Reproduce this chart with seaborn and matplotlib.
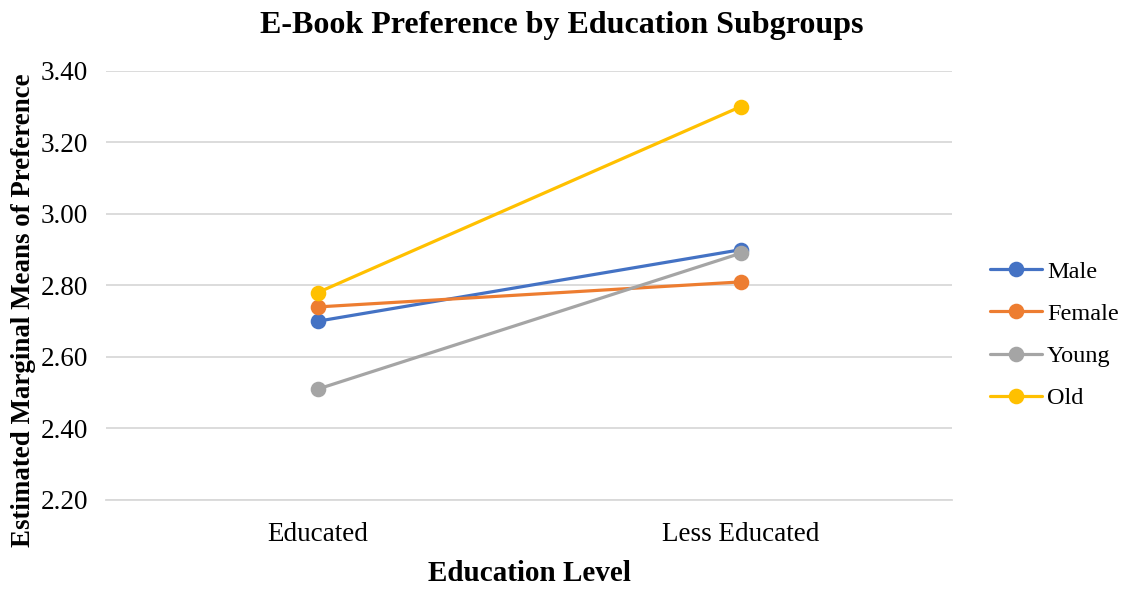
import matplotlib
matplotlib.use("Agg")
import matplotlib.pyplot as plt
import seaborn as sns
import pandas as pd

# Estimated marginal means of e-book preference
education_levels = ["Educated", "Less Educated"]
groups = ["Male", "Female", "Young", "Old"]
male = [2.70, 2.90]
female = [2.74, 2.81]
young = [2.51, 2.89]
old = [2.78, 3.30]
y_ticks = [2.20, 2.40, 2.60, 2.80, 3.00, 3.20, 3.40]

colors = ["#4472C4", "#ED7D31", "#A5A5A5", "#FFC000"]

rows = []
for name, vals in zip(groups, [male, female, young, old]):
    for lvl, v in zip(education_levels, vals):
        rows.append({"Education Level": lvl, "Mean": v, "Group": name})
df = pd.DataFrame(rows)

sns.set_theme(style="white")
plt.rcParams["font.family"] = ["Liberation Serif", "DejaVu Serif"]
plt.rcParams["text.color"] = "black"
plt.rcParams["axes.labelcolor"] = "black"

fig = plt.figure(figsize=(11.24, 5.89), dpi=100)
ax = fig.add_axes([106 / 1124, 1 - 500 / 589, (952 - 106) / 1124, (500 - 71) / 589])

sns.pointplot(
    data=df, x="Education Level", y="Mean", hue="Group",
    order=education_levels, hue_order=groups, palette=colors,
    markers="o", linestyles="-", errorbar=None, dodge=False,
    markersize=9.5, linewidth=2.3, ax=ax,
)

ax.set_xlim(-0.5, 1.5)
ax.set_ylim(2.2, 3.4)
ax.set_yticks(y_ticks)
ax.set_yticklabels([f"{t:.2f}" for t in y_ticks])
ax.yaxis.grid(True, color="#D9D9D9", linewidth=1.3)
ax.set_axisbelow(True)
for s in ["top", "right", "left"]:
    ax.spines[s].set_visible(False)
ax.spines["bottom"].set_color("#D9D9D9")
ax.spines["bottom"].set_linewidth(1.3)
ax.tick_params(axis="both", length=0, labelsize=19.5, colors="black")
ax.tick_params(axis="x", pad=16)
ax.tick_params(axis="y", pad=13)

ax.set_xlabel("Education Level", fontsize=21, fontweight="bold", labelpad=9)
ax.set_ylabel("Estimated Marginal Means of Preference", fontsize=19.4, fontweight="bold")
ax.yaxis.set_label_coords(-0.083, 0.443)
fig.suptitle("E-Book Preference by Education Subgroups", fontsize=23, fontweight="bold", y=0.982)

handles, labels = ax.get_legend_handles_labels()
ax.legend(
    handles, labels, loc="center left", bbox_to_anchor=(990 / 1124, 1 - 335 / 589),
    bbox_transform=fig.transFigure, frameon=False, fontsize=17.5,
    handlelength=2.15, handletextpad=0.2, labelspacing=0.83, borderaxespad=0,
    borderpad=0,
)

fig.savefig("out.png", dpi=100)
